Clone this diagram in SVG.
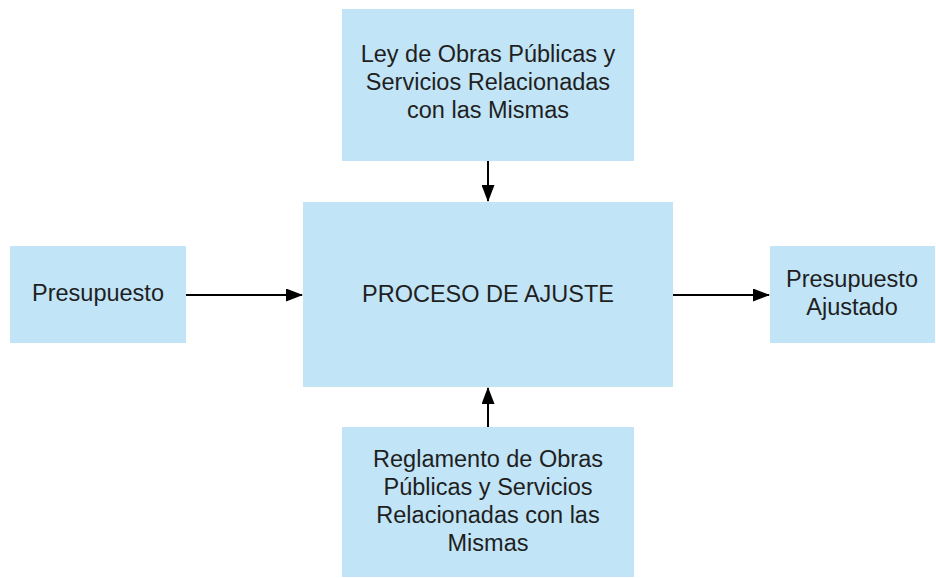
<svg xmlns="http://www.w3.org/2000/svg" width="936" height="578" viewBox="0 0 936 578">
<style>
.box{fill:#c1e4f6;}
.t{font-family:"Liberation Sans",Arial,sans-serif;font-size:23.5px;fill:#1f1f1f;text-anchor:middle;}
.c{stroke:#000;stroke-width:2;fill:none;}
</style>
<defs>
<marker id="ah" markerWidth="17" markerHeight="13" refX="16" refY="6.5" orient="auto" markerUnits="userSpaceOnUse">
<path d="M0,0 L17,6.5 L0,13 Z" fill="#000"/>
</marker>
</defs>
<rect width="936" height="578" fill="#fff"/>
<g id="ley">
<rect class="box" x="342" y="9" width="292" height="152"/>
<text class="t" x="488" y="62">Ley de Obras Públicas y</text>
<text class="t" x="488" y="90">Servicios Relacionadas</text>
<text class="t" x="488" y="118">con las Mismas</text>
</g>
<g id="proceso">
<rect class="box" x="303" y="202" width="370" height="185"/>
<text class="t" x="488" y="302">PROCESO DE AJUSTE</text>
</g>
<g id="presupuesto">
<rect class="box" x="10" y="246" width="176" height="97"/>
<text class="t" x="98" y="301">Presupuesto</text>
</g>
<g id="ajustado">
<rect class="box" x="770" y="246" width="165" height="97"/>
<text class="t" x="852" y="287">Presupuesto</text>
<text class="t" x="852" y="315">Ajustado</text>
</g>
<g id="reglamento">
<rect class="box" x="342" y="427" width="292" height="150"/>
<text class="t" x="488" y="467">Reglamento de Obras</text>
<text class="t" x="488" y="495">Públicas y Servicios</text>
<text class="t" x="488" y="523">Relacionadas con las</text>
<text class="t" x="488" y="551">Mismas</text>
</g>
<g id="connectors">
<line class="c" x1="488" y1="161" x2="488" y2="201" marker-end="url(#ah)"/>
<line class="c" x1="186" y1="295" x2="302" y2="295" marker-end="url(#ah)"/>
<line class="c" x1="673" y1="295" x2="769" y2="295" marker-end="url(#ah)"/>
<line class="c" x1="488" y1="427" x2="488" y2="388" marker-end="url(#ah)"/>
</g>
</svg>
